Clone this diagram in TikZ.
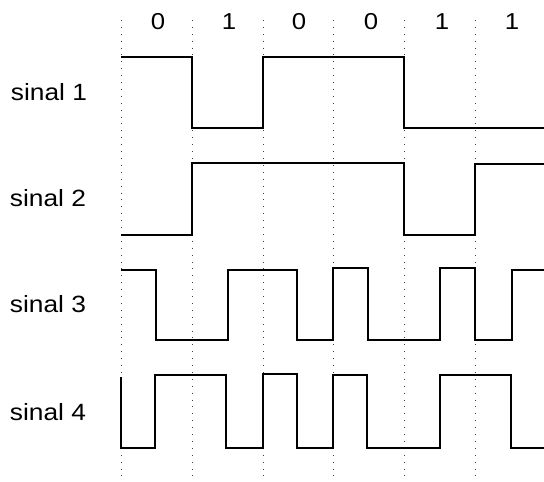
\documentclass[tikz,border=0pt]{standalone}
\usepackage{fontspec}
\newfontfamily\lbl[FakeStretch=1.12]{Liberation Sans}
\begin{document}
\begin{tikzpicture}[x=1bp,y=-1bp,
  grid/.style={black!75,line width=0.9bp,dash pattern=on 0.9bp off 6bp},
  sig/.style={black,line width=2.2bp,line join=miter},
  lab/.style={font=\lbl\fontsize{23.5bp}{28bp}\selectfont,inner sep=0pt},
  bit/.style={font=\lbl\fontsize{23bp}{28bp}\selectfont,inner sep=0pt}]
\useasboundingbox (0,0) rectangle (544,482);
% dotted time grid
\foreach \x in {121,192,263,333,404,475}
  \draw[grid] (\x,20) -- (\x,478);
% bit labels
\node[bit] (b1) at (158,22) {0};
\node[bit] (b2) at (229,22) {1};
\node[bit] (b3) at (299,22) {0};
\node[bit] (b4) at (371,22) {0};
\node[bit] (b5) at (442,22) {1};
\node[bit] (b6) at (512,22) {1};
% signal labels
\node[lab] (s1) at (49,92) {sinal 1};
\node[lab] (s2) at (48,198) {sinal 2};
\node[lab] (s3) at (48,304) {sinal 3};
\node[lab] (s4) at (48,412) {sinal 4};
% signal 1
\draw[sig] (121,57) -- (192,57) -- (192,128) -- (263,128) -- (263,57) -- (404,57) -- (404,128) -- (544,128);
% signal 2
\draw[sig] (121,235) -- (192,235) -- (192,163) -- (404,163) -- (404,235) -- (475,235) -- (475,164) -- (544,164);
% signal 3
\draw[sig] (121,270) -- (156,270) -- (156,340) -- (228,340) -- (228,270) -- (297,270) -- (297,340) -- (333,340) -- (333,268) -- (368,268) -- (368,340) -- (440,340) -- (440,268) -- (475,268) -- (475,340) -- (512,340) -- (512,270) -- (544,270);
% signal 4
\draw[sig] (121,377) -- (121,448) -- (155,448) -- (155,375) -- (226,375) -- (226,448) -- (263,448) -- (263,374) -- (297,374) -- (297,448) -- (333,448) -- (333,375) -- (367,375) -- (367,448) -- (440,448) -- (440,375) -- (511,375) -- (511,448) -- (544,448);
\end{tikzpicture}
\end{document}
